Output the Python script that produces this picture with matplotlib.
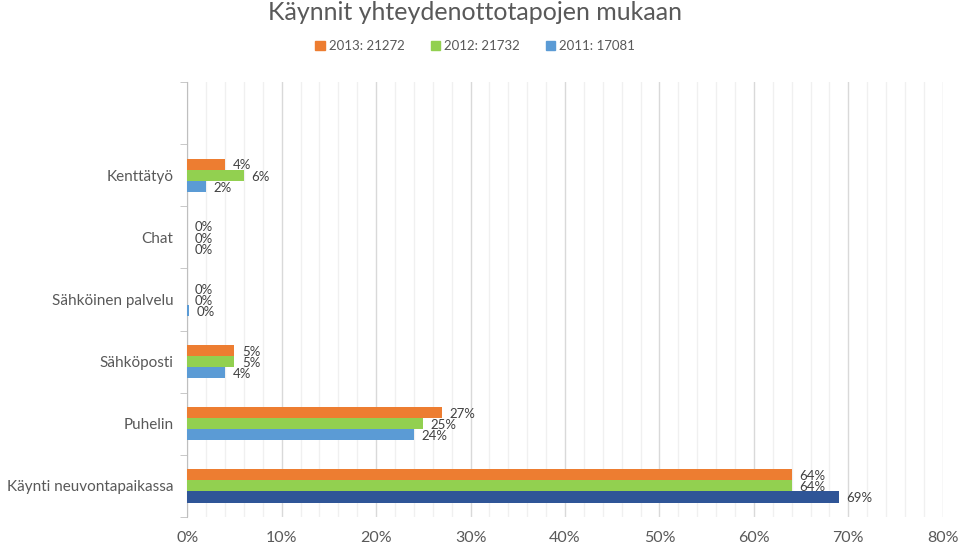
import numpy as np
import matplotlib
matplotlib.use("Agg")
import matplotlib.pyplot as plt
from matplotlib.patches import Patch
from matplotlib.ticker import MultipleLocator, PercentFormatter

plt.rcParams['font.family'] = ['Lato', 'DejaVu Sans']

# data (percent), bottom to top
categories = ["Käynti neuvontapaikassa", "Puhelin", "Sähköposti",
              "Sähköinen palvelu", "Chat", "Kenttätyö"]
series_names = ["2013: 21272", "2012: 21732", "2011: 17081"]
v2013 = [64, 27, 5, 0, 0, 4]
v2012 = [64, 25, 5, 0, 0, 6]
v2011 = [69, 24, 4, 0.2, 0, 2]
labels2011 = ["69%", "24%", "4%", "0%", "0%", "2%"]

colors = ["#ED7D31", "#92D050", "#5B9BD5"]
highlight = "#2F5597"
text_col = "#595959"

fig = plt.figure(figsize=(9.6, 5.44), dpi=100)
ax = fig.add_axes([0.195, 0.05, 0.787, 0.799])

y = np.arange(len(categories))
h = 0.18
offsets = [h, 0, -h]
all_vals = [v2013, v2012, v2011]
for i, vals in enumerate(all_vals):
    cols = [colors[i]] * len(vals)
    if i == 2:
        cols[0] = highlight
    ax.barh(y + offsets[i], vals, height=h, color=cols, zorder=3)
    for j, v in enumerate(vals):
        lab = labels2011[j] if i == 2 else f"{v:g}%"
        ax.text(v + 0.8, y[j] + offsets[i] - 0.02, lab, va="center", ha="left",
                fontsize=9.5, color="#404040", zorder=4)

# one empty slot above the last category, as in the original sheet
ax.set_xlim(0, 80)
ax.set_ylim(-0.5, len(categories) + 0.5)
ax.xaxis.set_major_locator(MultipleLocator(10))
ax.xaxis.set_minor_locator(MultipleLocator(2))
ax.xaxis.set_major_formatter(PercentFormatter(decimals=0))
ax.grid(axis="x", which="major", color="#D9D9D9", linewidth=1, zorder=0)
ax.grid(axis="x", which="minor", color="#F0F0F0", linewidth=1, zorder=0)
ax.tick_params(axis="x", which="both", length=0, labelsize=11.5, labelcolor=text_col, pad=10)

ax.set_yticks(y)
ax.set_yticklabels(categories)
ax.set_yticks(np.arange(-0.5, len(categories) + 1, 1), minor=True)
ax.tick_params(axis="y", which="major", length=0, labelsize=11, labelcolor=text_col, pad=10)
ax.tick_params(axis="y", which="minor", length=5, color="#BFBFBF")

for s in ["top", "right", "bottom"]:
    ax.spines[s].set_visible(False)
ax.spines["left"].set_color("#BFBFBF")

fig.text(0.495, 0.977, "Käynnit yhteydenottotapojen mukaan", ha="center", va="center",
         fontsize=18, color=text_col)
handles = [Patch(color=c) for c in colors]
fig.legend(handles, series_names, loc="center", bbox_to_anchor=(0.495, 0.915),
           ncol=3, frameon=False, fontsize=9.5, labelcolor=text_col,
           handlelength=0.7, handleheight=0.7, handletextpad=0.3, columnspacing=2.0)

fig.savefig("out.png", dpi=100)
